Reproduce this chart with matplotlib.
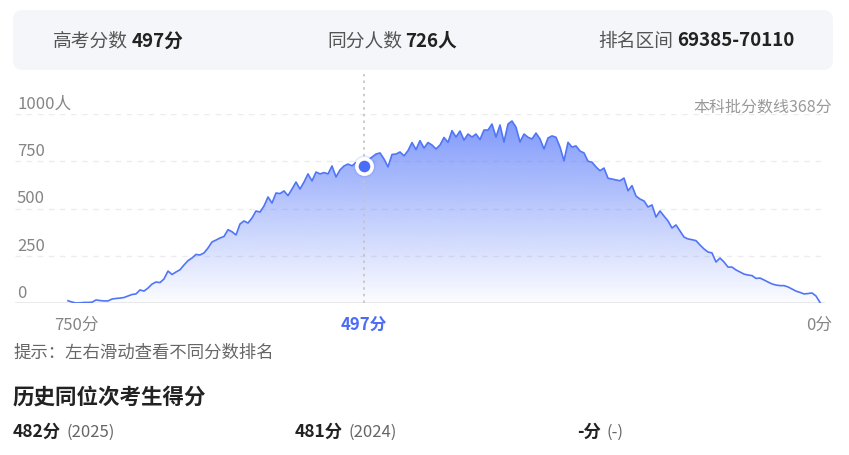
import matplotlib
matplotlib.use("Agg")
import matplotlib.pyplot as plt
import numpy as np
from matplotlib.patches import FancyBboxPatch, Polygon

plt.rcParams['font.family'] = ['Noto Sans CJK SC', 'DejaVu Sans']

# ---- data (people per score position, left = high score) ----
counts = [12, 5, 0, 1, 3, 3, 4, 16, 13, 11,
          11, 21, 24, 26, 29, 37, 45, 48, 69, 63,
          79, 100, 111, 108, 127, 169, 151, 164, 176, 201,
          224, 238, 257, 254, 265, 291, 323, 333, 344, 352,
          388, 377, 360, 418, 434, 423, 450, 487, 481, 513,
          561, 529, 582, 579, 593, 568, 603, 640, 603, 640,
          683, 646, 693, 683, 690, 683, 725, 667, 704, 725,
          735, 726, 743, 735, 726, 757, 772, 788, 794, 762,
          720, 786, 788, 799, 779, 806, 849, 812, 859, 820,
          849, 836, 815, 836, 876, 850, 912, 878, 910, 862,
          894, 878, 894, 865, 915, 915, 947, 878, 942, 852,
          947, 963, 930, 852, 894, 877, 868, 899, 868, 815,
          873, 884, 877, 825, 753, 850, 825, 831, 804, 794,
          750, 745, 720, 700, 714, 660, 656, 651, 647, 661,
          594, 621, 566, 550, 540, 508, 519, 455, 487, 460,
          434, 397, 413, 381, 349, 339, 335, 330, 307, 286,
          270, 265, 217, 238, 217, 190, 190, 175, 164, 153,
          148, 145, 130, 132, 122, 111, 101, 95, 92, 92,
          85, 74, 63, 56, 48, 50, 53, 37, 3]
selected_index = 74
selected_score = 497
selected_count = 726
rank_range = "69385-70110"
x_tick_pos = [0, selected_index, len(counts) - 1]
x_tick_labels = ["750分", "497分", "0分"]
y_ticks = [0, 250, 500, 750, 1000]
y_tick_labels = ["0", "250", "500", "750", "1000人"]
cutoff_label = "本科批分数线368分"
history_scores = ["482分", "481分", "-分"]
history_years = ["(2025)", "(2024)", "(-)"]

W, H = 849, 456
fig = plt.figure(figsize=(W / 100, H / 100), dpi=100)
fig.patch.set_facecolor("white")

# background axes in pixel coordinates
bg = fig.add_axes([0, 0, 1, 1])
bg.set_xlim(0, W)
bg.set_ylim(H, 0)
bg.axis("off")

box = FancyBboxPatch((13, 11), 820, 60, boxstyle="round,pad=0,rounding_size=10",
                     fc="#f5f6fa", ec="none")
bg.add_patch(box)

lab_c = "#555555"
val_c = "#222222"
fs_top = 13.5
bg.text(53, 41, "高考分数", fontsize=fs_top, color=lab_c, va="center")
bg.text(132, 41, f"{selected_score}分", fontsize=fs_top, color=val_c, va="center", fontweight="bold")
bg.text(327, 41, "同分人数", fontsize=fs_top, color=lab_c, va="center")
bg.text(405, 41, f"{selected_count}人", fontsize=fs_top, color=val_c, va="center", fontweight="bold")
bg.text(598, 41, "排名区间", fontsize=fs_top, color=lab_c, va="center")
bg.text(677, 41, rank_range, fontsize=fs_top, color=val_c, va="center", fontweight="bold")

bg.text(13, 353, "提示：左右滑动查看不同分数排名", fontsize=12.5, color="#666666", va="center")
bg.text(13, 397, "历史同位次考生得分", fontsize=15.5, color="#222222", va="center", fontweight="bold")
for xs, xy, s, yr in zip([13, 295, 577], [67, 349, 607], history_scores, history_years):
    bg.text(xs, 432, s, fontsize=12.5, color="#222222", va="center", fontweight="bold")
    bg.text(xy, 432, yr, fontsize=12, color="#666666", va="center")

bg.text(832, 107, cutoff_label, fontsize=11.5, color="#999999", ha="right", va="center")

# ---- chart axes ----
px0, px_step = 68, 4.0
ax_l, ax_r, ax_t, ax_b = 15, 825, 115, 304
ax = fig.add_axes([ax_l / W, 1 - ax_b / H, (ax_r - ax_l) / W, (ax_b - ax_t) / H])
ax.set_xlim((ax_l - px0) / px_step, (ax_r - px0) / px_step)
ax.set_ylim(0, 1000)
ax.axis("off")
ax.patch.set_alpha(0)

for v in y_ticks[1:]:
    ax.axhline(v, color="#ececec", lw=1, ls=(0, (4, 4)), zorder=0)
ax.axhline(0, color="#e8e8e8", lw=1.2, zorder=0)

ytr = ax.get_yaxis_transform()
for v, lab in zip(y_ticks, y_tick_labels):
    ax.text(0.0025, v + 32, lab, transform=ytr, fontsize=12, color="#858585",
            va="baseline", ha="left")

x = np.arange(len(counts))
y = np.array(counts, dtype=float)

# gradient fill
grad = np.zeros((256, 1, 4))
base = np.array([91, 124, 250]) / 255.0
grad[:, 0, :3] = base
grad[:, 0, 3] = np.linspace(0.02, 0.8, 256)
im = ax.imshow(grad, extent=[x[0], x[-1], 0, 1000], origin="lower", aspect="auto",
               zorder=1, interpolation="bilinear")
verts = np.vstack([np.column_stack([x, y]), [[x[-1], 0], [x[0], 0]]])
poly = Polygon(verts, closed=True, fc="none", ec="none", transform=ax.transData)
ax.add_patch(poly)
im.set_clip_path(poly)

ax.plot(x, y, color="#5075f6", lw=1.2, zorder=3, solid_joinstyle="round")

# selected score marker and dotted line
ax.axvline(selected_index, ymin=0, ymax=1.21, color="#c4c4c4", lw=1.2,
           ls=(0, (1.5, 2.5)), clip_on=False, zorder=2)
ax.plot(selected_index, counts[selected_index], "o", ms=16, color="#4a6cf7", alpha=0.15,
        mec="none", zorder=4)
ax.plot(selected_index, counts[selected_index], "o", ms=11, mfc="#4a6cf7", mec="white",
        mew=2.6, zorder=5)

# x labels
xtr = ax.get_xaxis_transform()
for p, lab in zip(x_tick_pos, x_tick_labels):
    if lab.startswith(str(selected_score)):
        ax.text(p, -0.115, lab, transform=xtr, fontsize=12, color="#4a6cf7",
                fontweight="bold", ha="center", va="center")
    elif p == 0:
        ax.text(p + 2, -0.115, lab, transform=xtr, fontsize=12, color="#858585",
                ha="center", va="center")
    else:
        ax.text(p + 3, -0.115, lab, transform=xtr, fontsize=12, color="#858585",
                ha="right", va="center")

fig.savefig("out.png", dpi=100, facecolor="white")
